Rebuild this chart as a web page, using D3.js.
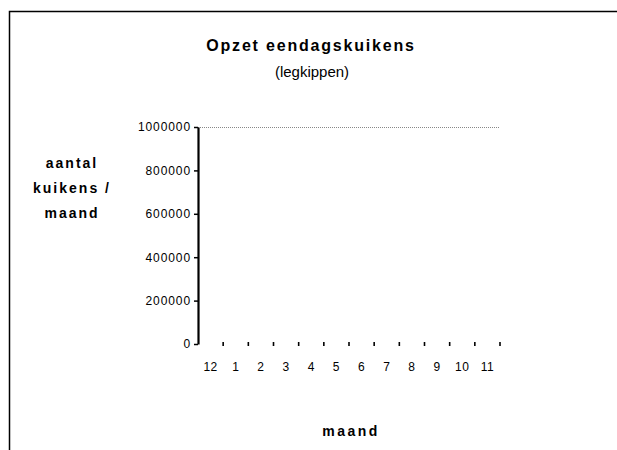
<!DOCTYPE html>
<html><head><meta charset="utf-8">
<script src="https://cdn.jsdelivr.net/npm/d3@7/dist/d3.min.js"></script>
<style>
body{margin:0;background:#fff;}
svg{display:block;font-family:"Liberation Sans",Arial,sans-serif;}
</style></head>
<body><svg id="c" width="617" height="450"></svg>
<script>
const months = ["12","1","2","3","4","5","6","7","8","9","10","11"];
const kuikens = [null,null,null,null,null,null,null,null,null,null,null,null];
const yTicks = [0,200000,400000,600000,800000,1000000];
const titleText = "Opzet eendagskuikens";
const subtitleText = "(legkippen)";
const yTitleLines = ["aantal","kuikens /","maand"];
const xTitleText = "maand";

const svg = d3.select("#c");
// outer frame (left and top edges visible)
svg.append("path").attr("d","M9.5,450 L9.5,11.5 L617,11.5").attr("fill","none").attr("stroke","#000").attr("stroke-width",1.5);

const x = d3.scaleBand().domain(months).range([198,500]).padding(0);
const y = d3.scaleLinear().domain([0,1000000]).range([344,127]);

// top gridline (dotted)
svg.append("line").attr("x1",198).attr("x2",500).attr("y1",y(1000000)+0.5).attr("y2",y(1000000)+0.5)
  .attr("stroke","#888").attr("stroke-width",1).attr("stroke-dasharray","1,1");

// bars (no data)
svg.append("g").selectAll("rect").data(months.map((m,i)=>({m,v:kuikens[i]})).filter(d=>d.v!=null))
  .join("rect").attr("x",d=>x(d.m)+3).attr("width",x.bandwidth()-6)
  .attr("y",d=>y(d.v)).attr("height",d=>y(0)-y(d.v)).attr("fill","#000");

// y axis
const yAxis = svg.append("g").attr("transform","translate(198,0)")
  .call(d3.axisLeft(y).tickValues(yTicks).tickSize(4).tickSizeOuter(0).tickPadding(3).tickFormat(d3.format("d")));
yAxis.select(".domain").attr("stroke","#000").attr("stroke-width",2.2);
yAxis.selectAll(".tick line").attr("stroke","#000").attr("stroke-width",1.5);
yAxis.selectAll("text").attr("font-size",12).attr("letter-spacing",0.9).attr("fill","#000")
  .attr("font-family","Liberation Sans, Arial, sans-serif");

// x axis: ticks at band boundaries, labels at band centres
const xg = svg.append("g");
xg.selectAll("line").data(months).join("line")
  .attr("x1",d=>x(d)+x.bandwidth()).attr("x2",d=>x(d)+x.bandwidth())
  .attr("y1",y(0)-2).attr("y2",y(0)+2).attr("stroke","#000").attr("stroke-width",1.6);
xg.selectAll("text").data(months).join("text")
  .attr("x",d=>x(d)+x.bandwidth()/2).attr("y",371)
  .attr("text-anchor","middle").attr("font-size",12).attr("letter-spacing",0.5).attr("fill","#000").text(d=>d);

// titles
svg.append("text").attr("x",311).attr("y",51).attr("text-anchor","middle")
  .attr("font-size",16).attr("font-weight","bold").attr("letter-spacing",1.8).text(titleText);
svg.append("text").attr("x",312).attr("y",77).attr("text-anchor","middle")
  .attr("font-size",15).text(subtitleText);

const yt = svg.append("text").attr("text-anchor","middle").attr("font-size",14).attr("font-weight","bold").attr("letter-spacing",2);
yTitleLines.forEach((l,i)=>yt.append("tspan").attr("x",72).attr("y",168+i*25).text(l));

svg.append("text").attr("x",351).attr("y",436).attr("text-anchor","middle")
  .attr("font-size",14).attr("font-weight","bold").attr("letter-spacing",2.5).text(xTitleText);
</script></body></html>
